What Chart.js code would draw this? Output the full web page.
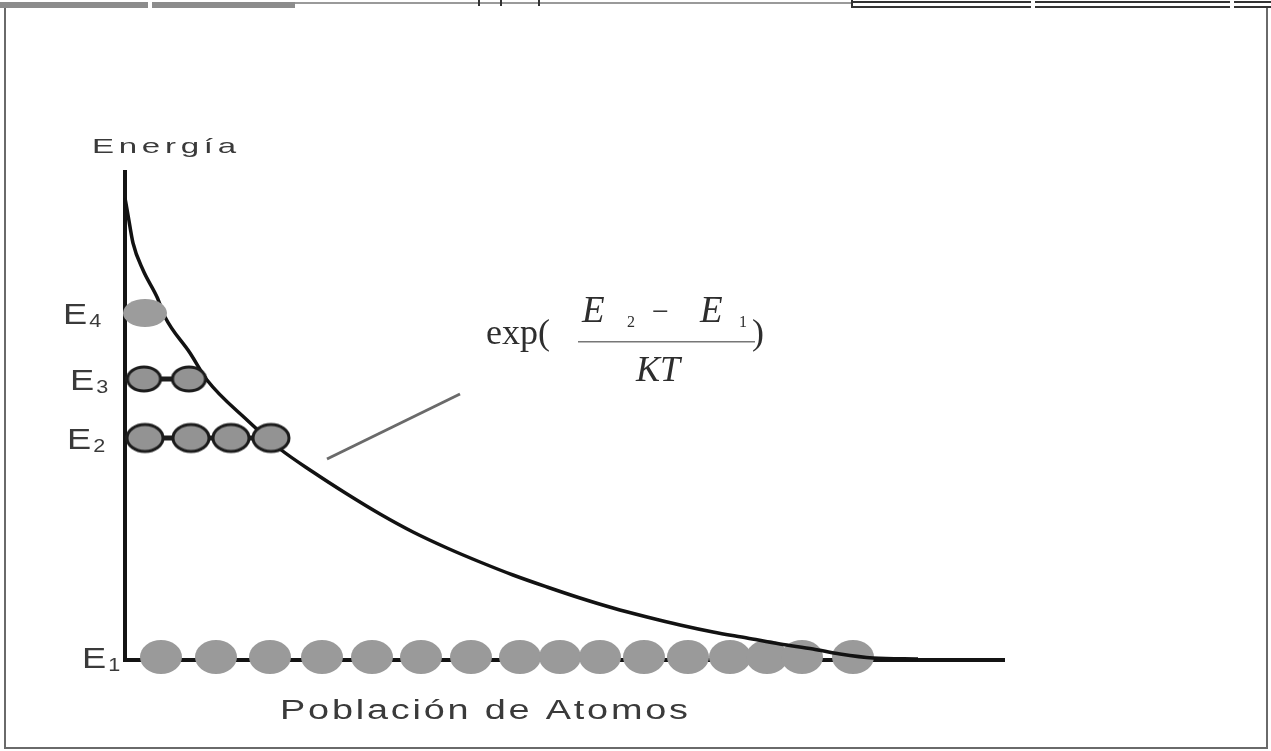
<!DOCTYPE html>
<html>
<head>
<meta charset="utf-8">
<title>Población de Atomos</title>
<script src="https://cdn.jsdelivr.net/npm/chart.js@4/dist/chart.umd.min.js"></script>
<style>
  html, body { margin: 0; padding: 0; background: #fff; }
  canvas { display: block; }
</style>
</head>
<body>
<canvas id="chart" width="1271" height="751"></canvas>
<script>
// energy of each level (E1..E4) on the vertical axis
const energyLevels = [3, 222, 281, 347];
const levelNames = ['1', '2', '3', '4'];

// atoms sitting on each level (population axis positions)
const atomsE1 = [36, 91, 145, 197, 247, 296, 346, 395, 435, 475, 519, 563, 605, 642, 677, 728];
const atomsE2 = [20, 66, 106, 146];
const atomsE3 = [19, 64];
const atomsE4 = [20];

// Boltzmann curve, population vs energy
const curvePop = [0, 3, 8, 18, 32, 40, 65, 82, 122, 155, 188, 222, 255, 288, 322, 355, 388, 422, 455, 488, 522, 555, 588, 622, 655, 688, 715, 748, 793];
const curveEnergy = [462, 445, 417, 390, 363, 343, 307, 280, 240, 211, 188, 166, 146, 128, 112, 98, 85, 73, 62, 52, 43, 35, 28, 22, 16, 11, 6, 2, 1];

// where the E2 / E3 level lines meet the curve
const levelLineEnd = [0, 143, 82];

// pointer from the formula down to the curve
const pointerPop = [202, 335];
const pointerEnergy = [201, 266];

const popMax = 880;
const energyMax = 490;

// x offset of each level label
const labelLeft = [82, 67, 70, 63];

function makeBead(w, h, fill, stroke, sw) {
    const c = document.createElement('canvas');
    c.width = w + sw * 2;
    c.height = h + sw * 2;
    const g = c.getContext('2d');
    g.beginPath();
    g.ellipse(c.width / 2, c.height / 2, w / 2, h / 2, 0, 0, Math.PI * 2);
    g.fillStyle = fill;
    g.fill();
    if (sw > 0) {
        g.lineWidth = sw;
        g.strokeStyle = stroke;
        g.stroke();
    }
    return c;
}

const beadE1 = makeBead(42, 34, '#9a9a9a', '#9a9a9a', 0);
const beadE2 = makeBead(36, 27, '#939393', '#1c1c1c', 3);
const beadE3 = makeBead(33, 24, '#939393', '#1c1c1c', 3);
const beadE4 = makeBead(44, 28, '#9c9c9c', '#9c9c9c', 0);

function atoms(list, level) {
    return list.map(x => ({ x: x, y: energyLevels[level] }));
}

function pairs(xs, ys) {
    return xs.map((x, i) => ({ x: x, y: ys[i] }));
}

function beadSet(list, level, style) {
    return {
        data: atoms(list, level),
        pointStyle: style,
        pointRadius: 20,
        showLine: false,
        clip: false
    };
}

function lineSet(data, color, width, smooth) {
    return {
        data: data,
        showLine: true,
        borderColor: color,
        borderWidth: width,
        pointRadius: 0,
        cubicInterpolationMode: smooth ? 'monotone' : 'default',
        tension: 0,
        clip: false
    };
}

// draws text stretched to a given width
function stretchedText(ctx, text, x, y, width, font, spacing) {
    ctx.save();
    ctx.font = font;
    ctx.letterSpacing = spacing + 'px';
    const w = ctx.measureText(text).width - spacing;
    ctx.translate(x, y);
    ctx.scale(width / w, 1);
    ctx.fillText(text, 0, 0);
    ctx.restore();
}

// draws text widened by a fixed factor, returns the drawn width
function wideText(ctx, text, x, y, font, k) {
    ctx.save();
    ctx.font = font;
    const w = ctx.measureText(text).width;
    ctx.translate(x, y);
    ctx.scale(k, 1);
    ctx.fillText(text, 0, 0);
    ctx.restore();
    return w * k;
}

const frame = {
    id: 'frame',
    beforeDraw(chart) {
        const ctx = chart.ctx;
        ctx.save();
        ctx.fillStyle = '#fff';
        ctx.fillRect(0, 0, chart.width, chart.height);

        // page border
        ctx.strokeStyle = '#6a6a6a';
        ctx.lineWidth = 2;
        ctx.beginPath();
        ctx.moveTo(5, 8);
        ctx.lineTo(5, 748);
        ctx.lineTo(1267, 748);
        ctx.lineTo(1267, 8);
        ctx.stroke();

        // table remnants on top
        ctx.fillStyle = '#8c8c8c';
        ctx.fillRect(0, 2, 148, 6);
        ctx.fillRect(152, 2, 143, 6);
        ctx.fillStyle = '#9a9a9a';
        ctx.fillRect(295, 2, 556, 2);
        ctx.fillStyle = '#333';
        ctx.fillRect(478, 0, 2, 6);
        ctx.fillRect(500, 0, 2, 6);
        ctx.fillRect(538, 0, 2, 6);
        ctx.fillRect(851, 0, 2, 8);
        [[853, 1031], [1035, 1230], [1234, 1271]].forEach(s => {
            ctx.fillRect(s[0], 1, s[1] - s[0], 2);
            ctx.fillRect(s[0], 6, s[1] - s[0], 2);
        });
        ctx.restore();
    },
    beforeDatasetsDraw(chart) {
        const ctx = chart.ctx;
        const xs = chart.scales.x, ys = chart.scales.y;
        const x0 = xs.getPixelForValue(0), y0 = ys.getPixelForValue(0);
        ctx.save();
        ctx.strokeStyle = '#141414';
        ctx.lineWidth = 4;
        ctx.lineCap = 'butt';
        ctx.beginPath();
        ctx.moveTo(x0, ys.getPixelForValue(energyMax));
        ctx.lineTo(x0, y0);
        ctx.lineTo(xs.getPixelForValue(popMax), y0);
        ctx.stroke();
        ctx.restore();
    },
    afterDraw(chart) {
        const ctx = chart.ctx;
        const ys = chart.scales.y;
        ctx.save();
        ctx.fillStyle = '#3a3a3a';

        // axis names
        stretchedText(ctx, 'Energía', 92, 153, 144, '21px "Liberation Sans"', 3);
        stretchedText(ctx, 'Población de Atomos', 280, 719, 408, '27px "Liberation Sans"', 2);

        // level labels E1..E4
        energyLevels.forEach((e, i) => {
            const py = ys.getPixelForValue(e);
            const base = py + 11;
            const ew = wideText(ctx, 'E', labelLeft[i], base, '29px "Liberation Sans"', 1.25);
            wideText(ctx, levelNames[i], labelLeft[i] + ew + 2, base + 3, '18px "Liberation Sans"', 1.2);
        });

        // exp((E2 - E1)/KT)
        ctx.fillStyle = '#2e2e2e';
        ctx.font = '36px "Liberation Serif"';
        ctx.fillText('exp(', 486, 344);
        ctx.fillText(')', 752, 344);
        ctx.font = 'italic 37px "Liberation Serif"';
        ctx.fillText('E', 582, 322);
        ctx.fillText('E', 700, 322);
        ctx.font = '16px "Liberation Serif"';
        ctx.fillText('2', 627, 327);
        ctx.fillText('1', 739, 327);
        ctx.font = '30px "Liberation Serif"';
        ctx.fillText('\u2212', 652, 321);
        ctx.font = 'italic 36px "Liberation Serif"';
        ctx.textAlign = 'center';
        ctx.fillText('KT', 658, 381);
        ctx.fillStyle = '#777';
        ctx.fillRect(578, 341, 177, 1.5);
        ctx.restore();
    }
};

new Chart(document.getElementById('chart'), {
    type: 'scatter',
    data: {
        datasets: [
            beadSet(atomsE4, 3, beadE4),
            beadSet(atomsE3, 2, beadE3),
            beadSet(atomsE2, 1, beadE2),
            lineSet(pairs(curvePop, curveEnergy), '#121212', 3.5, true),
            beadSet(atomsE1, 0, beadE1),
            lineSet([{ x: 0, y: energyLevels[1] }, { x: levelLineEnd[1], y: energyLevels[1] }], '#1c1c1c', 5, false),
            lineSet([{ x: 0, y: energyLevels[2] }, { x: levelLineEnd[2], y: energyLevels[2] }], '#1c1c1c', 5, false),
            lineSet(pairs(pointerPop, pointerEnergy), '#6a6a6a', 3, false)
        ]
    },
    options: {
        responsive: false,
        animation: false,
        devicePixelRatio: 1,
        layout: {
            autoPadding: false,
            padding: { left: 125, right: 266, top: 170, bottom: 91 }
        },
        plugins: {
            legend: { display: false },
            tooltip: { enabled: false }
        },
        scales: {
            x: { type: 'linear', display: false, min: 0, max: popMax },
            y: { type: 'linear', display: false, min: 0, max: energyMax }
        }
    },
    plugins: [frame]
});
</script>
</body>
</html>
